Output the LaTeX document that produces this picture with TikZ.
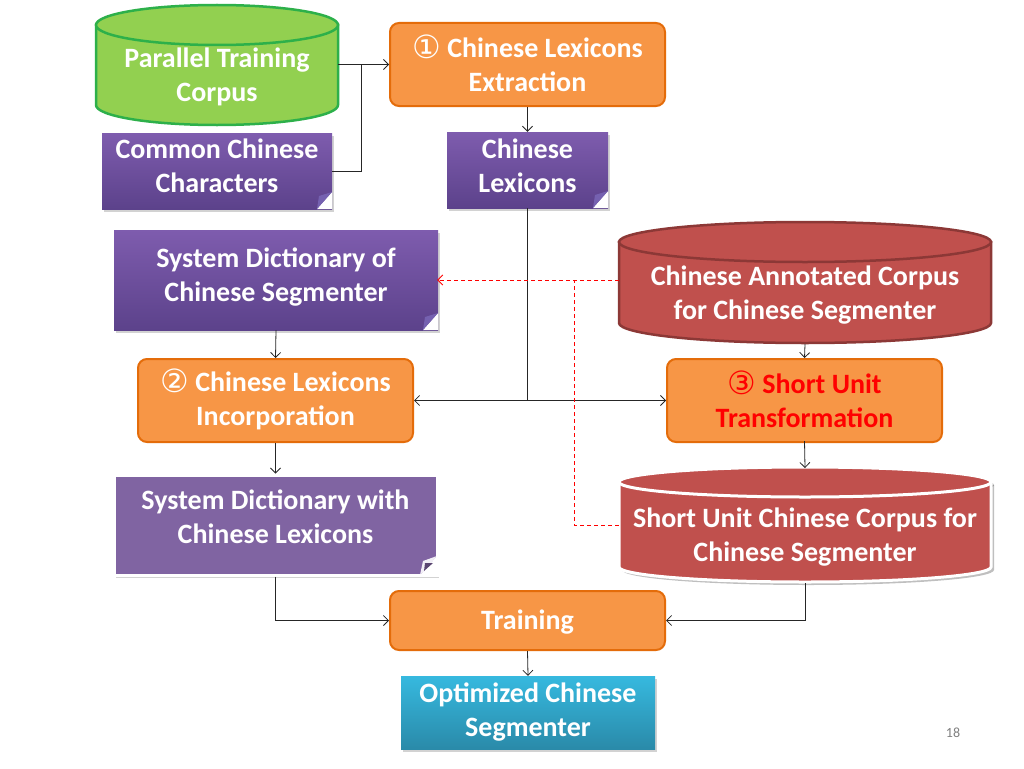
\documentclass[tikz,border=0pt]{standalone}
\usepackage{fontspec}
\setmainfont{Carlito}
\newfontfamily\symf{DejaVu Sans}
\usetikzlibrary{arrows.meta,shadows}
\definecolor{orfill}{HTML}{F79646}
\definecolor{orline}{HTML}{E46C0A}
\definecolor{purtop}{HTML}{7E5CAE}
\definecolor{purbot}{HTML}{5C428B}
\definecolor{purflat}{HTML}{8064A2}
\definecolor{purfold}{HTML}{7561B0}
\definecolor{redfill}{HTML}{C0504D}
\definecolor{redline}{HTML}{8C3836}
\definecolor{grnfill}{HTML}{92D050}
\definecolor{grnline}{HTML}{2DB04A}
\definecolor{blutop}{HTML}{36B9DF}
\definecolor{blubot}{HTML}{2A8AA9}
\newcommand\cylshape[6]{%
  \pgfmathsetmacro\cxa{(#1+#2)/2}%
  \pgfmathsetmacro\rxa{(#2-#1)/2}%
  \pgfmathsetmacro\yta{#3+#5}%
  \pgfmathsetmacro\yba{#4-#5}%
  \pgfmathsetmacro\kx{0.5523*\rxa}%
  \pgfmathsetmacro\kyb{\yba+0.5523*#5}%
  \path[#6] (#1,\yta) -- (#1,\yba) .. controls (#1,\kyb) and (\cxa-\kx,#4) .. (\cxa,#4) .. controls (\cxa+\kx,#4) and (#2,\kyb) .. (#2,\yba) -- (#2,\yta) -- cycle;
  \path[#6] (\cxa,\yta) ellipse [x radius=\rxa, y radius=#5];
}
\newcommand\circnum[1]{\raisebox{-1pt}[0pt][0pt]{\symf\mdseries\fontsize{32}{34}\selectfont #1}}
\begin{document}
\begin{tikzpicture}[x=1pt,y=-1pt,
  txt/.style={text=white,font=\bfseries\fontsize{28}{34}\selectfont,align=center,inner sep=0pt},
  proc/.style={txt,rounded corners=9pt,fill=orfill,draw=orline,line width=2pt},
  notebox/.style={txt,top color=purtop,bottom color=purbot,
    drop shadow={shadow xshift=2pt,shadow yshift=-3pt,opacity=0.35},
    path picture={
      \fill[white] ([xshift=-15pt]path picture bounding box.south east) -- (path picture bounding box.south east) -- ([yshift=17pt]path picture bounding box.south east) -- cycle;
      \fill[purfold] ([xshift=-15pt]path picture bounding box.south east) -- ([yshift=17pt]path picture bounding box.south east) -- ([xshift=-13pt,yshift=13pt]path picture bounding box.south east) -- cycle;
    }},
  notewhite/.style={txt,fill=purflat,draw=white,line width=3pt,
    drop shadow={shadow xshift=2pt,shadow yshift=-3pt,opacity=0.35},
    path picture={
      \fill[white] ([xshift=-17pt]path picture bounding box.south east) -- (path picture bounding box.south east) -- ([yshift=19pt]path picture bounding box.south east) -- cycle;
      \fill[white!90!purflat] ([xshift=-17pt]path picture bounding box.south east) -- ([yshift=19pt]path picture bounding box.south east) -- ([xshift=-14pt,yshift=14pt]path picture bounding box.south east) -- cycle;
      \fill[purflat!70!black] ([xshift=-13pt,yshift=4pt]path picture bounding box.south east) -- ([xshift=-4pt,yshift=12pt]path picture bounding box.south east) -- ([xshift=-12pt,yshift=12pt]path picture bounding box.south east) -- cycle;
    }},
  arr/.style={-{Straight Barb[length=5pt,width=10pt]},line width=0.8pt,black!85},
  plain/.style={line width=0.8pt,black!85},
  reddash/.style={red,line width=0.8pt,dash pattern=on 4pt off 3pt},
  redarr/.style={reddash,-{Straight Barb[length=5pt,width=10pt]}}
]
\useasboundingbox (0,0) rectangle (1024,768);
\fill[white] (0,0) rectangle (1024,768);

% cylinders
\cylshape{96}{338}{5}{125}{20}{fill=grnfill,draw=grnline,line width=2.5pt}
\cylshape{619}{991}{222}{343}{20}{fill=redfill,draw=redline,line width=2.5pt}
\cylshape{622}{994}{470}{585}{15}{fill=black,opacity=0.25}
\cylshape{619}{991}{467}{582}{15}{fill=redfill,draw=white,line width=3pt}

\node[txt,minimum width=242pt,minimum height=98pt] (green) at (217,77) {Parallel Training\\Corpus};
\node[txt,minimum width=372pt,minimum height=98pt] (ann) at (805,295) {Chinese Annotated Corpus\\for Chinese Segmenter};
\node[txt,minimum width=372pt,minimum height=92pt] (suc) at (805,537) {Short Unit Chinese Corpus for\\Chinese Segmenter};

% process boxes
\node[proc,minimum width=275pt,minimum height=83pt] (ext) at (527.5,64.5) {\circnum{①} Chinese Lexicons\\Extraction};
\node[proc,minimum width=275pt,minimum height=83pt] (inc) at (275.5,400.5) {\circnum{②} Chinese Lexicons\\Incorporation};
\node[proc,minimum width=275pt,minimum height=83pt,text=red] (sut) at (804.5,400.5) {\circnum{③} Short Unit\\Transformation};
\node[proc,minimum width=275pt,minimum height=59pt] (trn) at (527.5,620.5) {\raisebox{0pt}[18pt][0pt]{Training}};

% notes
\node[notebox,minimum width=230pt,minimum height=76pt,
  label={[txt,yshift=5pt]center:{Common Chinese\\Characters}}] (cc) at (217,171) {};
\node[notebox,minimum width=161pt,minimum height=76pt,
  label={[txt,yshift=4pt]center:{Chinese\\Lexicons}}] (lex) at (527.5,170) {};
\node[notebox,minimum width=324pt,minimum height=100pt,
  label={[txt,yshift=3pt]center:{System Dictionary of\\Chinese Segmenter}}] (sdc) at (276,280) {};
\node[notewhite,minimum width=323pt,minimum height=100pt,
  label={[txt,yshift=8pt]center:{System Dictionary with\\Chinese Lexicons}}] (sdw) at (275.5,525) {};

% output
\node[txt,minimum width=254pt,minimum height=73pt,top color=blutop,bottom color=blubot,
  drop shadow={shadow xshift=2pt,shadow yshift=-3pt,opacity=0.35}] (opt) at (528,712.5) {Optimized Chinese\\Segmenter};

\node[font=\fontsize{14}{16}\selectfont,text=black!50,inner sep=0pt] (pg) at (953,733) {18};

% connectors
\coordinate (j1) at (361,0);
\draw[arr] (green.east |- ext.west) -- (ext.west);
\draw[plain] (cc.east) -| (j1 |- ext.west);
\draw[arr] (ext.south) -- (lex.north);
\coordinate (j2) at (lex.south |- inc.east);
\draw[plain] (lex.south) -- (j2);
\draw[arr] (j2) -- (inc.east);
\draw[arr] (j2) -- (sut.west);
\draw[arr] (sdc.south) -- (inc.north);
\draw[arr] (inc.south) -- (sdw.north);
\draw[arr] (ann.south) -- (sut.north);
\draw[arr] ([yshift=2pt]sut.south) -- ([yshift=-1pt]suc.north |- 0,467);
\coordinate (j3) at (574,0);
\draw[redarr] (ann.west |- sdc.east) -- ([xshift=-1pt]sdc.east);
\draw[reddash] ([yshift=12pt]suc.west) -| (j3 |- sdc.east);
\draw[arr] (sdw.south) |- (trn.west);
\draw[arr] (suc.south) |- (trn.east);
\draw[arr] (trn.south) -- (opt.north);
\end{tikzpicture}
\end{document}
